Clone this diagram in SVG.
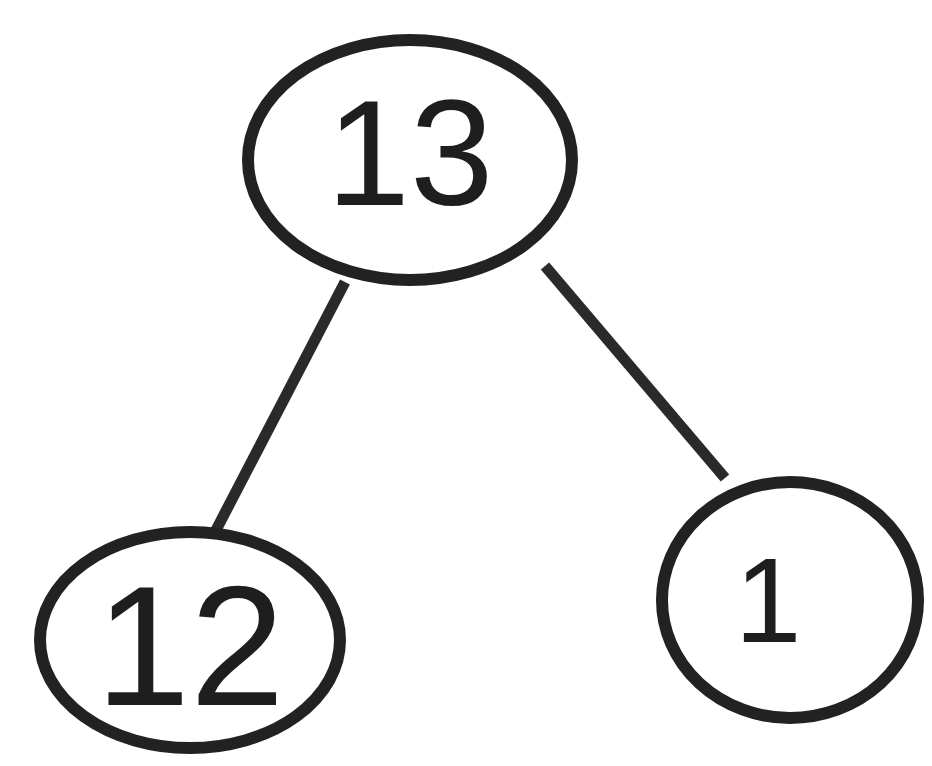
<svg xmlns="http://www.w3.org/2000/svg" width="932" height="766" viewBox="0 0 932 766">
<style>
.n{fill:none;stroke:#222;stroke-width:12}
.e{stroke:#2a2a2a;stroke-width:11;fill:none}
.t{font-family:"Liberation Sans",Arial,sans-serif;font-size:150px;fill:#1e1e1e;text-anchor:middle}
</style>
<rect width="932" height="766" fill="#fff"/>
<g id="connectors">
<line class="e" x1="345" y1="282" x2="215" y2="532"/>
<line class="e" x1="545" y1="266" x2="725" y2="478"/>
</g>
<g id="node13">
<ellipse class="n" cx="410" cy="160" rx="162" ry="120"/>
<text class="t" x="410" y="205">13</text>
</g>
<g id="node12">
<ellipse class="n" cx="190" cy="640" rx="150" ry="108"/>
<text class="t" x="190" y="705" style="font-size:170px">12</text>
</g>
<g id="node1">
<ellipse class="n" cx="790" cy="600" rx="128" ry="118"/>
<text class="t" x="768" y="642" style="font-size:120px">1</text>
</g>
</svg>
